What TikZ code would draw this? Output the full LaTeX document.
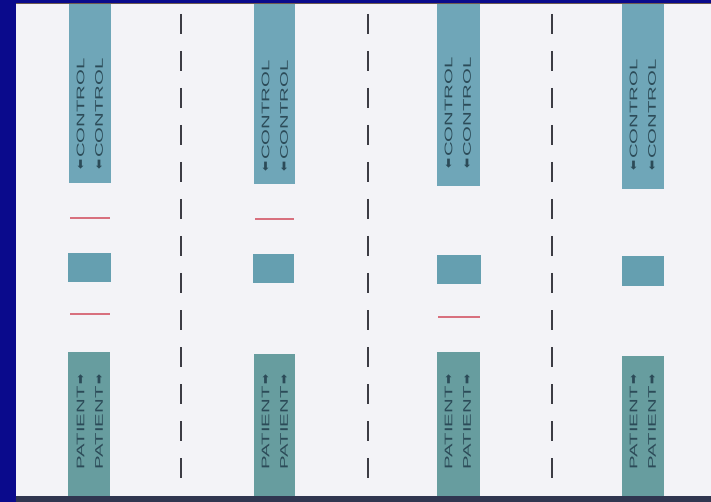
\documentclass[tikz,border=0pt]{standalone}
\usepackage{fontspec}
\usepackage{graphicx}
\setmainfont{Liberation Sans}
\newfontfamily\arrowfont{DejaVu Sans}
\definecolor{bgblue}{HTML}{0A0A8C}
\definecolor{card}{HTML}{F3F3F7}
\definecolor{tealtop}{HTML}{6FA6B8}
\definecolor{tealmid}{HTML}{659FB0}
\definecolor{tealbot}{HTML}{679D9F}
\definecolor{txt}{HTML}{2C4B58}
\definecolor{redln}{HTML}{D8707E}
\definecolor{cutgrey}{HTML}{3C3C44}
\definecolor{bottomedge}{HTML}{303650}
\definecolor{topedge}{HTML}{6E5A50}
\tikzset{
  blk/.style={anchor=north west, inner sep=0pt, outer sep=0pt, draw=none},
  topblk/.style={blk, fill=tealtop},
  midblk/.style={blk, fill=tealmid},
  botblk/.style={blk, fill=tealbot},
  redmark/.style={blk, fill=redln, minimum height=2pt},
  lbl/.style={rotate=90, inner sep=0pt, text=txt, font=\fontsize{11}{11}\selectfont},
  cutline/.style={draw=cutgrey, line width=1.4pt, dash pattern=on 20pt off 17pt}
}
\newcommand{\ctrltext}{{\arrowfont\fontsize{12}{12}\selectfont ⬅}\hspace{1.5pt}\scalebox{1.85}[1]{CONTROL}}
\newcommand{\pattext}{\scalebox{1.85}[1]{PATIENT}\hspace{1.5pt}{\arrowfont\fontsize{12}{12}\selectfont ➡}}
\begin{document}
\begin{tikzpicture}[x=1pt,y=-1pt]
\useasboundingbox (0,0) rectangle (711,502);
% background and card
\fill[bgblue] (0,0) rectangle (711,502);
\node[blk, fill=card, minimum width=695pt, minimum height=492pt] (cardbox) at (16,4) {};
\fill[bottomedge] (16,496) rectangle (711,502);
\draw[topedge, line width=1.5pt] (16,3.6) -- (711,3.6);

% strip 1
\node[topblk, minimum width=42pt, minimum height=179pt] (t1) at (69,4) {};
\node[midblk, minimum width=43pt, minimum height=29pt] (m1) at (68,253) {};
\node[botblk, minimum width=42pt, minimum height=144pt] (b1) at (68,352) {};
\node[redmark, minimum width=40pt] (r1a) at (70,217) {};
\node[redmark, minimum width=40pt] (r1b) at (70,313) {};
% strip 2
\node[topblk, minimum width=41pt, minimum height=180pt] (t2) at (254,4) {};
\node[midblk, minimum width=41pt, minimum height=29pt] (m2) at (253,254) {};
\node[botblk, minimum width=41pt, minimum height=142pt] (b2) at (254,354) {};
\node[redmark, minimum width=39pt] (r2a) at (255,218) {};
% strip 3
\node[topblk, minimum width=43pt, minimum height=182pt] (t3) at (437,4) {};
\node[midblk, minimum width=44pt, minimum height=29pt] (m3) at (437,255) {};
\node[botblk, minimum width=43pt, minimum height=144pt] (b3) at (437,352) {};
\node[redmark, minimum width=42pt] (r3b) at (438,316) {};
% strip 4
\node[topblk, minimum width=42pt, minimum height=185pt] (t4) at (622,4) {};
\node[midblk, minimum width=42pt, minimum height=30pt] (m4) at (622,256) {};
\node[botblk, minimum width=42pt, minimum height=140pt] (b4) at (622,356) {};

% labels
\foreach \s/\xl/\yt in {1/69/114, 2/254/116, 3/437/113, 4/622/115}{
  \node[lbl] (c\s a) at (\xl+11.5,\yt) {\ctrltext};
  \node[lbl] (c\s b) at (\xl+30,\yt) {\ctrltext};
  \node[lbl] (p\s a) at (\xl+11.5,422) {\pattext};
  \node[lbl] (p\s b) at (\xl+30,422) {\pattext};
}

% cut lines
\foreach \i/\xx in {1/181, 2/368, 3/552}{
  \coordinate (d\i t) at (\xx,14);
  \coordinate (d\i b) at (\xx,482);
  \draw[cutline] (d\i t) -- (d\i b);
}
\end{tikzpicture}
\end{document}
